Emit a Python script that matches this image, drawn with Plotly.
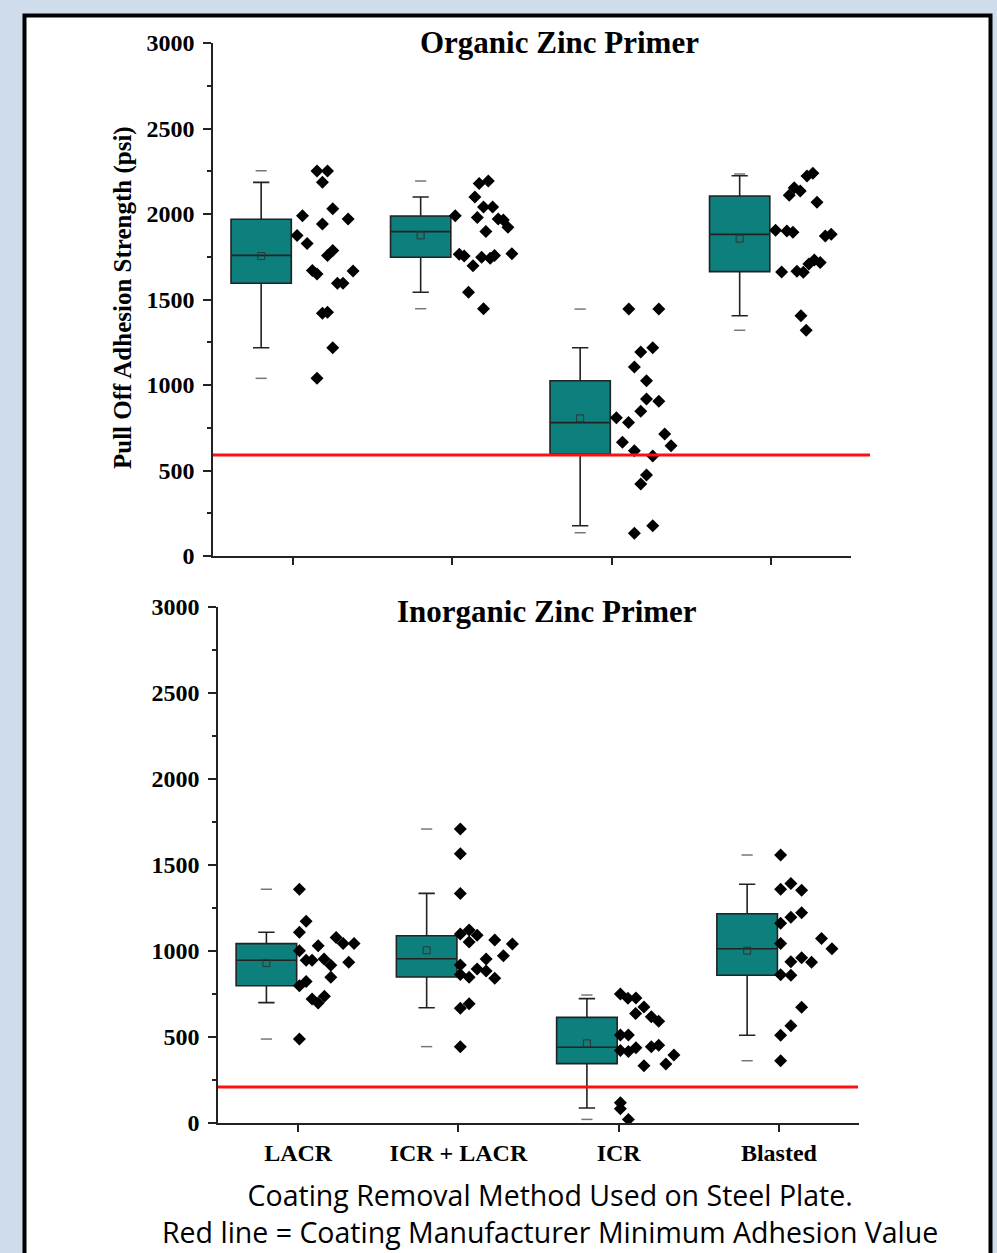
import plotly.graph_objects as go

# ---------------- data ----------------
categories = ["LACR", "ICR + LACR", "ICR", "Blasted"]
panel_titles = ["Organic Zinc Primer", "Inorganic Zinc Primer"]
y_title = "Pull Off Adhesion Strength (psi)"
caption_lines = ["Coating Removal Method Used on Steel Plate.",
                 "Red line = Coating Manufacturer Minimum Adhesion Value"]
min_adhesion = [590, 209]          # red reference line (organic, inorganic)
y_ticks = [0, 500, 1000, 1500, 2000, 2500, 3000]
y_minor_ticks = [250, 750, 1250, 1750, 2250, 2750]

# Organic zinc primer: box statistics per category
org_q1 = [1595, 1747, 596, 1663]
org_median = [1758, 1897, 780, 1881]
org_q3 = [1969, 1988, 1025, 2105]
org_whisker_lo = [1218, 1542, 177, 1405]
org_whisker_hi = [2185, 2099, 1218, 2224]
org_mean = [1754, 1875, 805, 1856]
org_min = [1039, 1446, 136, 1320]
org_max = [2253, 2193, 1444, 2234]

# Organic zinc primer: individual readings and their horizontal spread (category units)
org_lacr_vals = [2251, 2251, 2185, 1990, 2031, 1971, 1941, 1875, 1827, 1786,
                 1758, 1669, 1649, 1667, 1595, 1595, 1419, 1425, 1218, 1039]
org_lacr_dx = [0.152, 0.218, 0.186, 0.061, 0.251, 0.347, 0.186, 0.027, 0.090, 0.251,
               0.218, 0.123, 0.152, 0.378, 0.280, 0.315, 0.186, 0.218, 0.251, 0.152]
org_icrlacr_vals = [2179, 2193, 2099, 2041, 2041, 1990, 1979, 1971, 1965, 1922,
                    1897, 1764, 1754, 1747, 1741, 1758, 1768, 1698, 1542, 1446]
org_icrlacr_dx = [0.169, 0.226, 0.142, 0.196, 0.253, 0.019, 0.157, 0.288, 0.320, 0.349,
                  0.211, 0.044, 0.075, 0.184, 0.238, 0.265, 0.374, 0.130, 0.102, 0.196]
org_icr_vals = [1444, 1444, 1218, 1193, 1105, 1025, 918, 905, 846, 809,
                780, 713, 665, 645, 616, 585, 474, 421, 177, 133]
org_icr_dx = [0.107, 0.295, 0.257, 0.182, 0.142, 0.218, 0.218, 0.295, 0.182, 0.029,
              0.105, 0.332, 0.067, 0.372, 0.142, 0.257, 0.218, 0.182, 0.257, 0.142]
org_blasted_vals = [2238, 2222, 2154, 2134, 2109, 2068, 1905, 1901, 1893, 1871,
                    1881, 1661, 1665, 1659, 1708, 1731, 1717, 1405, 1320]
org_blasted_dx = [0.261, 0.224, 0.144, 0.182, 0.113, 0.287, 0.027, 0.098, 0.136, 0.339,
                  0.376, 0.065, 0.161, 0.201, 0.236, 0.270, 0.307, 0.186, 0.219]

# Inorganic zinc primer: box statistics per category
inorg_q1 = [798, 849, 345, 859]
inorg_median = [946, 955, 440, 1013]
inorg_q3 = [1043, 1089, 614, 1217]
inorg_whisker_lo = [700, 670, 87, 510]
inorg_whisker_hi = [1109, 1335, 723, 1388]
inorg_mean = [930, 1004, 463, 1002]
inorg_min = [488, 444, 21, 362]
inorg_max = [1359, 1709, 744, 1558]

# Inorganic zinc primer: individual readings
inorg_lacr_vals = [1359, 1173, 1109, 1078, 1043, 1043, 1031, 1002, 946, 946,
                   953, 917, 934, 847, 822, 798, 721, 698, 737, 488]
inorg_lacr_dx = [0.008, 0.050, 0.008, 0.237, 0.281, 0.349, 0.125, 0.008, 0.050, 0.087,
                 0.162, 0.204, 0.316, 0.204, 0.050, 0.008, 0.087, 0.125, 0.164, 0.008]
inorg_icrlacr_vals = [1709, 1566, 1335, 1122, 1099, 1091, 1052, 1064, 1041, 973,
                      953, 919, 895, 884, 864, 847, 841, 694, 667, 444]
inorg_icrlacr_dx = [0.012, 0.012, 0.012, 0.067, 0.012, 0.117, 0.067, 0.227, 0.337, 0.281,
                    0.173, 0.012, 0.117, 0.173, 0.012, 0.067, 0.227, 0.067, 0.012, 0.012]
inorg_icr_vals = [750, 725, 727, 674, 636, 618, 591, 512, 512, 421,
                  415, 438, 444, 452, 333, 343, 395, 118, 83, 21]
inorg_icr_dx = [0.011, 0.058, 0.108, 0.158, 0.106, 0.204, 0.250, 0.011, 0.061, 0.011,
                0.061, 0.108, 0.204, 0.250, 0.158, 0.295, 0.345, 0.011, 0.011, 0.061]
inorg_blasted_vals = [1558, 1393, 1359, 1353, 1223, 1196, 1161, 1072, 1013, 1043,
                      961, 938, 934, 862, 859, 673, 566, 510, 362]
inorg_blasted_dx = [0.011, 0.075, 0.011, 0.142, 0.142, 0.075, 0.011, 0.266, 0.331, 0.011,
                    0.142, 0.075, 0.204, 0.011, 0.075, 0.142, 0.075, 0.011, 0.011]

# ---------------- styling ----------------
W, H = 997, 1253
TEAL = "#0d7f7c"
INK = "#222222"
BOX_SHIFT = -0.198
BOX_W = 0.378
SERIF = "Liberation Serif, Times New Roman, serif"


def px_x(p):
    return p / W


def px_y(p):
    return 1 - p / H


fig = go.Figure()


def add_panel(xa, ya, q1, med, q3, lo, hi, mean, mn, mx, vals, dxs):
    pos = [i + 1 for i in range(len(categories))]
    box_x = [p + BOX_SHIFT for p in pos]
    fig.add_trace(go.Box(
        x=box_x, q1=q1, median=med, q3=q3, lowerfence=lo, upperfence=hi,
        width=BOX_W, fillcolor=TEAL, line=dict(color=INK, width=1.6),
        whiskerwidth=0.27, boxpoints=False, xaxis=xa, yaxis=ya,
        showlegend=False, hoverinfo="skip"))
    fig.add_trace(go.Scatter(
        x=box_x + box_x, y=mn + mx, mode="markers", xaxis=xa, yaxis=ya,
        marker=dict(symbol="line-ew", size=8, line=dict(color="#777777", width=1.5)),
        showlegend=False, hoverinfo="skip"))
    fig.add_trace(go.Scatter(
        x=box_x, y=mean, mode="markers", xaxis=xa, yaxis=ya,
        marker=dict(symbol="square-open", size=7, color="#333333", line=dict(width=1)),
        showlegend=False, hoverinfo="skip"))
    for p, v, d in zip(pos, vals, dxs):
        fig.add_trace(go.Scatter(
            x=[p + o for o in d], y=v, mode="markers", xaxis=xa, yaxis=ya,
            marker=dict(symbol="diamond", size=10, color="black"),
            showlegend=False, hoverinfo="skip"))


add_panel("x", "y", org_q1, org_median, org_q3, org_whisker_lo, org_whisker_hi,
          org_mean, org_min, org_max,
          [org_lacr_vals, org_icrlacr_vals, org_icr_vals, org_blasted_vals],
          [org_lacr_dx, org_icrlacr_dx, org_icr_dx, org_blasted_dx])
add_panel("x2", "y2", inorg_q1, inorg_median, inorg_q3, inorg_whisker_lo, inorg_whisker_hi,
          inorg_mean, inorg_min, inorg_max,
          [inorg_lacr_vals, inorg_icrlacr_vals, inorg_icr_vals, inorg_blasted_vals],
          [inorg_lacr_dx, inorg_icrlacr_dx, inorg_icr_dx, inorg_blasted_dx])

tick_font = dict(family=SERIF, size=24, color="black", weight="bold")


def y_axis(domain, anchor):
    return dict(domain=domain, anchor=anchor, range=[0, 3000], tickvals=y_ticks,
                showline=True, linecolor=INK, linewidth=1.5, ticks="outside",
                ticklen=8, tickwidth=1.5, tickcolor=INK, showgrid=False, zeroline=False,
                tickfont=tick_font, ticklabelstandoff=4, automargin=False,
                minor=dict(tickvals=y_minor_ticks, ticks="outside", ticklen=4,
                           tickwidth=1.5, tickcolor=INK))


def x_axis(domain, anchor, labels):
    return dict(domain=domain, anchor=anchor, range=[0.5, 4.5], tickvals=[1, 2, 3, 4],
                ticktext=categories, showticklabels=labels, showline=True, linecolor=INK,
                linewidth=1.5, ticks="outside", ticklen=7, tickwidth=1.5, tickcolor=INK,
                showgrid=False, zeroline=False, tickfont=tick_font, ticklabelstandoff=0,
                automargin=False)


fig.update_layout(
    width=W, height=H, margin=dict(l=0, r=0, t=0, b=0, pad=0, autoexpand=False),
    paper_bgcolor="#cfdcec", plot_bgcolor="rgba(0,0,0,0)",
    xaxis=x_axis([px_x(213), px_x(851)], "y", False),
    yaxis=y_axis([px_y(556), px_y(43)], "x"),
    xaxis2=x_axis([px_x(218), px_x(859)], "y2", True),
    yaxis2=y_axis([px_y(1123), px_y(607)], "x2"),
)

# white framed panel
fig.add_shape(type="rect", xref="paper", yref="paper", x0=px_x(24.5), x1=px_x(990.5),
              y0=-0.02, y1=px_y(15.5), fillcolor="white",
              line=dict(color="black", width=4), layer="below")

# red minimum adhesion lines
fig.add_shape(type="line", xref="paper", yref="y", x0=px_x(213), x1=px_x(870),
              y0=min_adhesion[0], y1=min_adhesion[0],
              line=dict(color="#ff1010", width=3), layer="above")
fig.add_shape(type="line", xref="paper", yref="y2", x0=px_x(218), x1=px_x(858),
              y0=min_adhesion[1], y1=min_adhesion[1],
              line=dict(color="#ff1010", width=3), layer="above")

title_font = dict(family=SERIF, size=31, color="black", weight="bold")
fig.add_annotation(text=panel_titles[0], xref="paper", yref="paper", x=px_x(559), y=px_y(43),
                   xanchor="center", yanchor="middle", showarrow=False, font=title_font)
fig.add_annotation(text=panel_titles[1], xref="paper", yref="paper", x=px_x(547), y=px_y(611),
                   xanchor="center", yanchor="middle", showarrow=False, font=title_font)
fig.add_annotation(text=y_title, xref="paper", yref="paper", x=px_x(123), y=px_y(298),
                   xanchor="center", yanchor="middle", textangle=-90, showarrow=False,
                   font=dict(family=SERIF, size=25, color="black", weight="bold"))
cap_font = dict(family="Open Sans, sans-serif", size=28.5, color="black")
fig.add_annotation(text="<br>".join(caption_lines), xref="paper", yref="paper",
                   x=px_x(550), y=px_y(1213), xanchor="center", yanchor="middle",
                   align="center", showarrow=False, font=cap_font)

fig.write_html("out.html")
